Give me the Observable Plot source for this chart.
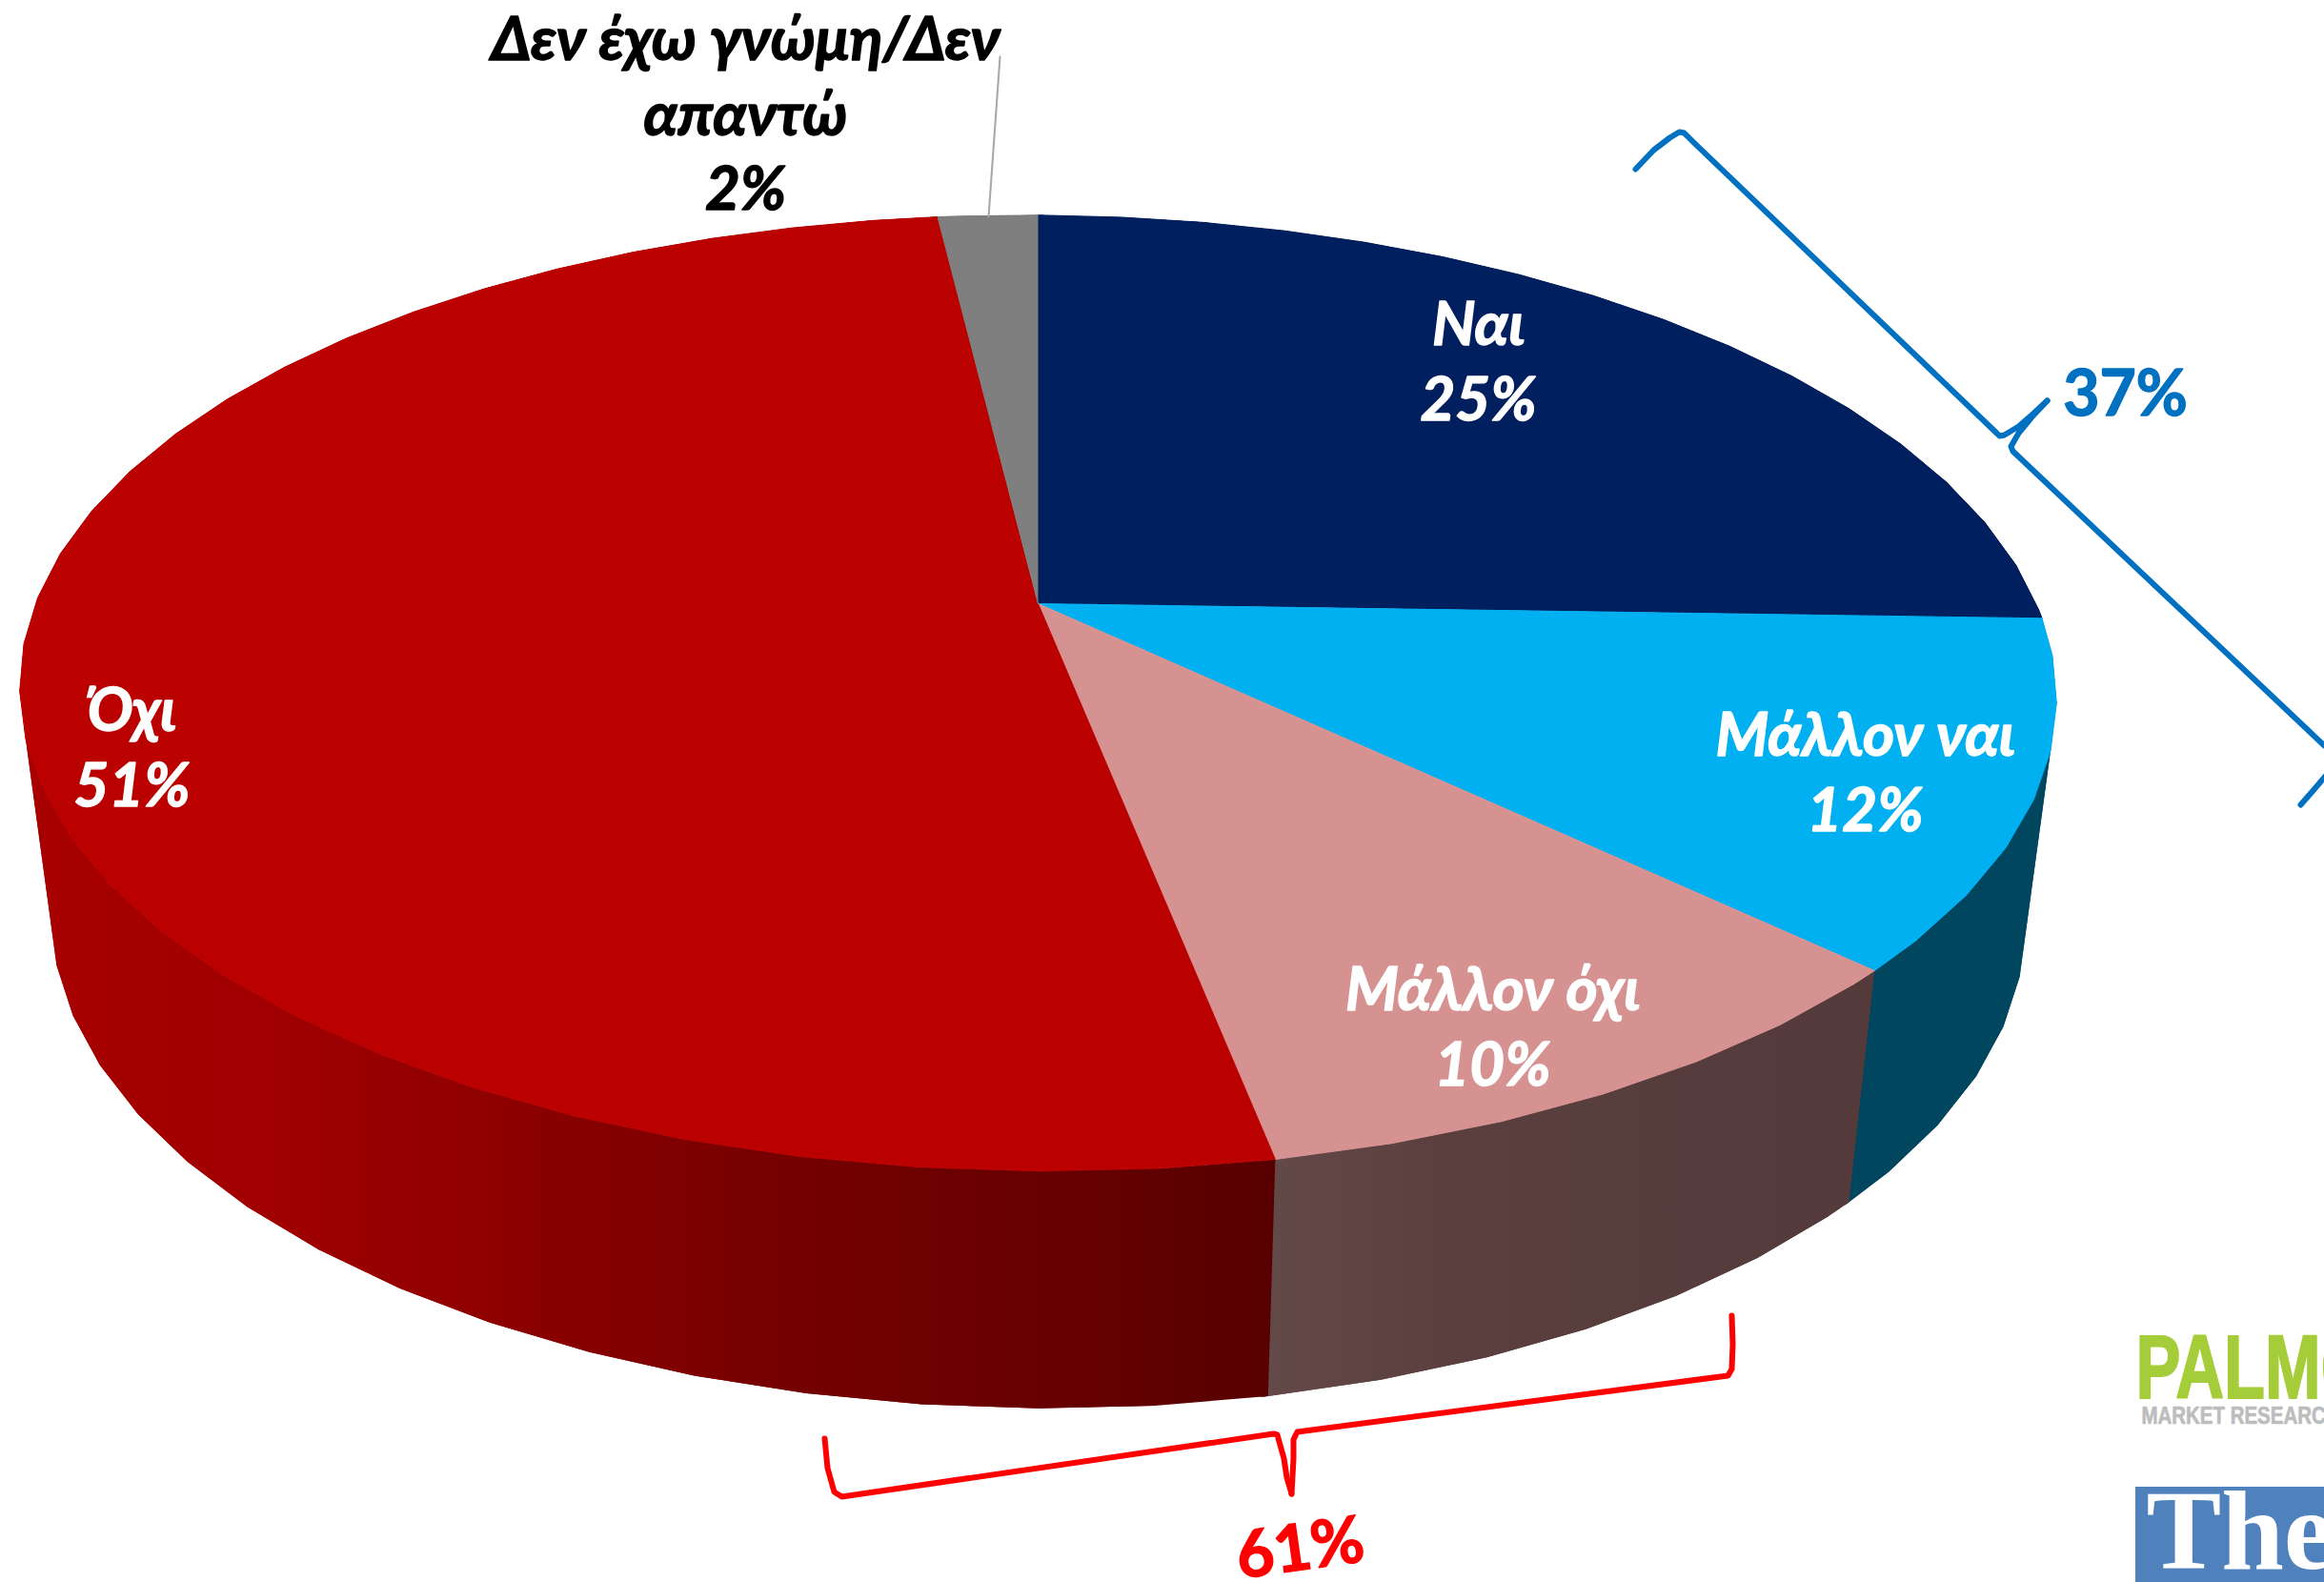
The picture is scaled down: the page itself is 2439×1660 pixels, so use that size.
<!DOCTYPE html>
<html><head><meta charset="utf-8">
<style>html,body{margin:0;padding:0;background:#fff;overflow:hidden}svg{display:block}</style>
<script src="https://cdn.jsdelivr.net/npm/d3@7"></script>
<script src="https://cdn.jsdelivr.net/npm/@observablehq/plot@0.6"></script>
</head><body><div id="chart"></div>
<script>
const categories = ["Ναι", "Μάλλον ναι", "Μάλλον όχι", "Όχι", "Δεν έχω γνώμη/Δεν απαντώ"];
const values = [25.3, 11.7, 9.9, 51.2, 1.9];
const topColors = ["#001f5e", "#00b0f0", "#d69291", "#bb0000", "#7f7f7f"];
const wallColors = ["#001a4d", "#00465f", "url(#wallPink)", "url(#wallRed)", "#555555"];
const labelText = ["Ναι\n25%", "Μάλλον ναι\n12%", "Μάλλον όχι\n10%", "Όχι\n51%", "Δεν έχω γνώμη/Δεν\nαπαντώ\n2%"];
const labelX = [1551, 1957, 1566, 138, 782];
const labelY = [376, 807, 1074, 781, 116];
const labelFill = ["white", "white", "white", "white", "black"];
const blueBrace1 = [[1716,177],[1735,157],[1752,144],[1762,138],[1767,139],[1776,148],[2094,453],[2098,457],[2103,456],[2118,447],[2134,433],[2148,420]];
const blueBrace2 = [[2148,420],[2132,437],[2118,454],[2110,468],[2112,473],[2439,782]];
const blueBrace3 = [[2414,844],[2428,828],[2445,808]];
const redBrace1 = [[865,1509],[868,1540],[875,1565],[883,1570],[1336,1504],[1340,1505],[1347,1530],[1350,1550],[1355,1567]];
const redBrace2 = [[1355,1567],[1357,1530],[1357,1510],[1361,1502],[1813,1443],[1817,1436],[1818,1410],[1817,1380]];
const leader = [[1049,59],[1037,227]];

// perspective model of the disc, from fractions of the full circle
const cx = 1089, shear = 0.0058;
const top0 = {cy:633, R:1050, A:484, k:0.187}, bottom0 = {cy:866, R:1018, A:497, k:0.187};
const project = (f, d) => {
  const a = f * 2 * Math.PI, u = Math.sin(a), v = Math.cos(a), w = 1 + d.k * v;
  const dx = d.R * u / w;
  return {x: cx + dx, y: d.cy - d.A * v / w + shear * dx};
};
const total = d3.sum(values);
const cum = d3.cumsum(values).map(c => c / total);
const starts = [0, ...cum.slice(0, -1)];
const facets = 64;
const arc = (a, b) => {
  const fs = [a];
  for (let i = Math.floor(a * facets) + 1; i / facets < b - 1e-6; i++) fs.push(i / facets);
  fs.push(b);
  return fs;
};
const topFaces = values.map((_, i) => [{x: cx, y: top0.cy}, ...arc(starts[i], cum[i]).map(f => project(f, top0))]);
// every wall piece spans two facets and runs a little past the slice end, so the
// pieces painted later cover the joints and no seam shows
const wallFaces = values.map((_, i) => {
  const fs = arc(starts[i], cum[i] + 0.001);
  return fs.slice(0, -1).flatMap((a, q) => {
    const b = fs[q + 1], c = fs[Math.min(q + 2, fs.length - 1)];
    return [a, b, c].map(f => ({...project(f, top0), q}))
      .concat([c, b, a].map(f => ({...project(f, bottom0), q})));
  });
});
const pts = a => a.map(([x, y]) => ({x, y}));
const labels = labelText.map((text, i) => ({text, x: labelX[i], y: labelY[i], fill: labelFill[i]}));
const lblFont = "Lato, 'Open Sans', sans-serif";
const logoFont = "'Liberation Sans',sans-serif";

const chart = Plot.plot({
  width: 2439, height: 1660, margin: 0,
  x: {domain: [0, 2439], axis: null},
  y: {domain: [1660, 0], axis: null},
  style: {background: "#fff", overflow: "hidden"},
  marks: [
    ...wallFaces.map((f, i) => Plot.line(f, {x: "x", y: "y", z: "q", fill: wallColors[i], stroke: "none"})),
    ...topFaces.map((f, i) => Plot.line(f, {x: "x", y: "y", fill: topColors[i], stroke: topColors[i], strokeWidth: 1})),
    Plot.line(pts(leader), {x: "x", y: "y", stroke: "#a6a6a6", strokeWidth: 2}),
    Plot.text(labels, {x: "x", y: "y", text: "text", fill: "fill", stroke: "fill", strokeWidth: 1.4, fontSize: 63.5, lineHeight: 1.23, fontWeight: "bold", fontStyle: "italic", fontFamily: lblFont, textAnchor: "middle", lineAnchor: "middle"}),
    ...[blueBrace1, blueBrace2, blueBrace3].map(b => Plot.line(pts(b), {x: "x", y: "y", stroke: "#0070c0", strokeWidth: 6})),
    ...[redBrace1, redBrace2].map(b => Plot.line(pts(b), {x: "x", y: "y", stroke: "#ff0000", strokeWidth: 6})),
    Plot.text(["37%"], {x: [2230], y: [414], text: d => d, fill: "#0070c0", stroke: "#0070c0", strokeWidth: 1.4, fontSize: 66, fontWeight: "bold", fontFamily: lblFont, lineAnchor: "middle"}),
    Plot.text(["61%"], {x: [1364], y: [1625], text: d => d, fill: "#ff0000", stroke: "#ff0000", strokeWidth: 1.4, fontSize: 68, fontWeight: "bold", fontFamily: lblFont, rotate: -8, lineAnchor: "middle"}),
    Plot.text(["PALMOS"], {x: [2241], y: [1466], text: d => d, fill: "#a5cd39", stroke: "#a5cd39", strokeWidth: 2, fontSize: 94, fontWeight: "bold", fontFamily: logoFont, textAnchor: "start", lineAnchor: "bottom", className: "palmos"}),
    Plot.text(["MARKET RESEARCH"], {x: [2247], y: [1493], text: d => d, fill: "#bdbdbd", stroke: "#bdbdbd", strokeWidth: 0.7, fontSize: 25, fontWeight: "bold", fontFamily: logoFont, textAnchor: "start", lineAnchor: "bottom", className: "market"}),
    Plot.rect([0], {x1: [2241], x2: [2439], y1: [1560], y2: [1660], fill: "#4f81bd"}),
    Plot.text(["The"], {x: [2252], y: [1645], text: d => d, fill: "white", fontSize: 118, fontWeight: "bold", fontFamily: "'Liberation Serif',serif", textAnchor: "start", lineAnchor: "bottom"})
  ]
});
const defs = document.createElementNS("http://www.w3.org/2000/svg", "defs");
defs.innerHTML = `
<linearGradient id="wallRed" gradientUnits="userSpaceOnUse" x1="20" x2="1338" y1="0" y2="0">
  <stop offset="0" stop-color="#a80000"/><stop offset="0.2" stop-color="#a00000"/><stop offset="0.38" stop-color="#8e0000"/><stop offset="0.6" stop-color="#760000"/><stop offset="0.85" stop-color="#650000"/><stop offset="1" stop-color="#580000"/>
</linearGradient>
<linearGradient id="wallPink" gradientUnits="userSpaceOnUse" x1="1330" x2="1960" y1="0" y2="0">
  <stop offset="0" stop-color="#644949"/><stop offset="0.3" stop-color="#5a3f3e"/><stop offset="1" stop-color="#553a3c"/>
</linearGradient>`;
chart.prepend(defs);
const squeeze = (sel, len) => chart.querySelectorAll(sel + " text").forEach(t => {
  t.setAttribute("textLength", len);
  t.setAttribute("lengthAdjust", "spacingAndGlyphs");
});
squeeze(".palmos", 296);
squeeze(".market", 208);
document.getElementById("chart").append(chart);
</script></body></html>
